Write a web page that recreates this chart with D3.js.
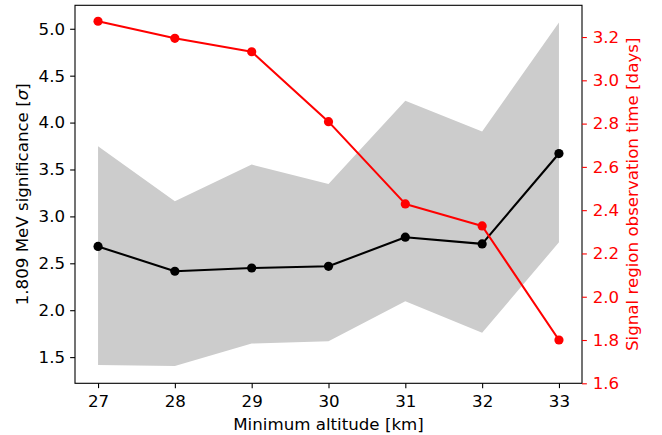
<!DOCTYPE html>
<html>
<head>
<meta charset="utf-8">
<script src="https://cdn.jsdelivr.net/npm/d3@7"></script>
<style>
  html, body { margin: 0; padding: 0; background: #fff; }
  svg { display: block; font-family: "DejaVu Sans", sans-serif; }
</style>
</head>
<body>
<svg id="chart" width="662" height="435"></svg>
<script>
// ---- data ----
const altitudes = [27, 28, 29, 30, 31, 32, 33];
const significance = [2.68, 2.415, 2.45, 2.468, 2.778, 2.707, 3.67];
const bandLower = [1.415, 1.404, 1.645, 1.67, 2.096, 1.759, 2.724];
const bandUpper = [3.747, 3.161, 3.552, 3.346, 4.233, 3.906, 5.067];
const obsTimeDays = [3.273, 3.194, 3.132, 2.809, 2.429, 2.327, 1.80];
const leftTicks = [1.5, 2.0, 2.5, 3.0, 3.5, 4.0, 4.5, 5.0];
const rightTicks = [1.6, 1.8, 2.0, 2.2, 2.4, 2.6, 2.8, 3.0, 3.2];

// ---- layout ----
const svg = d3.select("#chart");
const L = 75, R = 582, T = 5.3, B = 383.3;
const fs = 16.67;
const tickLen = 4.86;

function pad(lo, hi) { const m = (hi - lo) * 0.05; return [lo - m, hi + m]; }

const x = d3.scaleLinear().domain(pad(d3.min(altitudes), d3.max(altitudes))).range([L, R]);
const yL = d3.scaleLinear().domain(pad(d3.min(bandLower), d3.max(bandUpper))).range([B, T]);
const yR = d3.scaleLinear().domain([1.6, pad(d3.min(obsTimeDays), d3.max(obsTimeDays))[1]]).range([B, T]);

const rows = altitudes.map((a, i) => ({ a, s: significance[i], lo: bandLower[i], hi: bandUpper[i], t: obsTimeDays[i] }));

// band
svg.append("path")
  .datum(rows)
  .attr("fill", "#cccccc")
  .attr("stroke", "none")
  .attr("d", d3.area().x(d => x(d.a)).y0(d => yL(d.lo)).y1(d => yL(d.hi)));

// black line
svg.append("path")
  .datum(rows)
  .attr("fill", "none")
  .attr("stroke", "#000")
  .attr("stroke-width", 2.08)
  .attr("stroke-linejoin", "round")
  .attr("d", d3.line().x(d => x(d.a)).y(d => yL(d.s)));
svg.selectAll("circle.blk").data(rows).enter().append("circle")
  .attr("class", "blk")
  .attr("cx", d => x(d.a)).attr("cy", d => yL(d.s)).attr("r", 4.6)
  .attr("fill", "#000");

// red line
svg.append("path")
  .datum(rows)
  .attr("fill", "none")
  .attr("stroke", "#ff0000")
  .attr("stroke-width", 2.08)
  .attr("stroke-linejoin", "round")
  .attr("d", d3.line().x(d => x(d.a)).y(d => yR(d.t)));
svg.selectAll("circle.red").data(rows).enter().append("circle")
  .attr("class", "red")
  .attr("cx", d => x(d.a)).attr("cy", d => yR(d.t)).attr("r", 4.6)
  .attr("fill", "#ff0000");

// frame
svg.append("rect")
  .attr("x", L).attr("y", T).attr("width", R - L).attr("height", B - T)
  .attr("fill", "none").attr("stroke", "#000").attr("stroke-width", 1.1);

// axes
const xAxis = d3.axisBottom(x).tickValues(altitudes).tickFormat(d3.format("d"))
  .tickSizeInner(tickLen).tickSizeOuter(0).tickPadding(7);
const gx = svg.append("g").attr("transform", `translate(0,${B})`).call(xAxis);

const leftAxis = d3.axisLeft(yL).tickValues(leftTicks).tickFormat(d3.format(".1f"))
  .tickSizeInner(tickLen).tickSizeOuter(0).tickPadding(5.1);
const gl = svg.append("g").attr("transform", `translate(${L},0)`).call(leftAxis);

const rightAxis = d3.axisRight(yR).tickValues(rightTicks).tickFormat(d3.format(".1f"))
  .tickSizeInner(tickLen).tickSizeOuter(0).tickPadding(5.8);
const gr = svg.append("g").attr("transform", `translate(${R},0)`).call(rightAxis);

[gx, gl, gr].forEach(g => {
  g.attr("font-size", fs).attr("font-family", "DejaVu Sans");
  g.select(".domain").remove();
  g.selectAll("line").attr("stroke-width", 1.1);
});
gx.selectAll("text").attr("fill", "#000");
gl.selectAll("text").attr("fill", "#000");
gl.selectAll("line").attr("stroke", "#000");
gx.selectAll("line").attr("stroke", "#000");
gr.selectAll("text").attr("fill", "#ff0000");
gr.selectAll("line").attr("stroke", "#ff0000");

// labels
svg.append("text")
  .attr("x", (L + R) / 2).attr("y", 429.5)
  .attr("text-anchor", "middle").attr("font-size", fs).attr("fill", "#000")
  .text("Minimum altitude [km]");

const yl = svg.append("text")
  .attr("transform", `translate(27.5,${(T + B) / 2}) rotate(-90)`)
  .attr("text-anchor", "middle").attr("font-size", fs).attr("fill", "#000");
yl.append("tspan").text("1.809 MeV significance [");
yl.append("tspan").attr("font-style", "italic").text("σ");
yl.append("tspan").text("]");

svg.append("text")
  .attr("transform", `translate(637.5,${(T + B) / 2}) rotate(-90)`)
  .attr("text-anchor", "middle").attr("font-size", fs).attr("fill", "#ff0000")
  .text("Signal region observation time [days]");
</script>
</body>
</html>
